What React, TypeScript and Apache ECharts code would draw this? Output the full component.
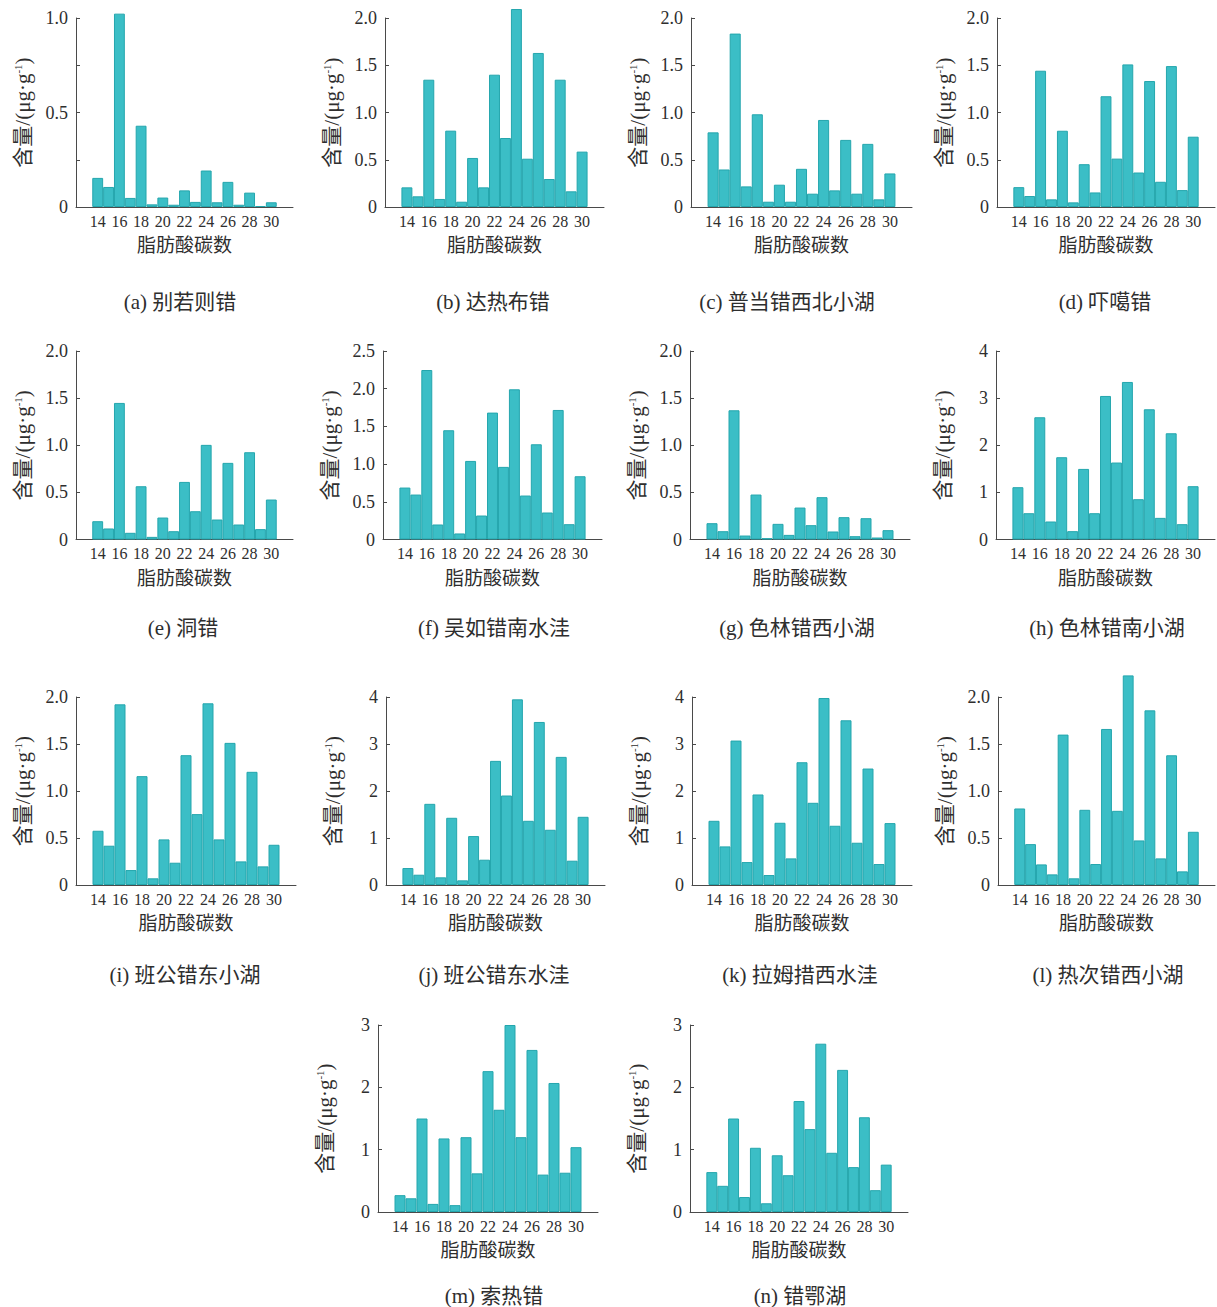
import React, { useEffect, useRef } from 'react';
import * as echarts from 'echarts';

// ---------- data ----------
const CARBON_NUMBERS = [14, 15, 16, 17, 18, 19, 20, 21, 22, 23, 24, 25, 26, 27, 28, 29, 30];
const AXIS_CATEGORIES = ['12', '13', '14', '15', '16', '17', '18', '19', '20', '21', '22', '23', '24', '25', '26', '27', '28', '29', '30', '31', '32'];
const LABELED_TICKS = ['14', '16', '18', '20', '22', '24', '26', '28', '30'];

const PANEL_LETTERS = ['a', 'b', 'c', 'd', 'e', 'f', 'g', 'h', 'i', 'j', 'k', 'l', 'm', 'n'];
const LAKE_NAMES = ['别若则错', '达热布错', '普当错西北小湖', '吓噶错', '洞错', '吴如错南水洼', '色林错西小湖', '色林错南小湖', '班公错东小湖', '班公错东水洼', '拉姆措西水洼', '热次错西小湖', '索热错', '错鄂湖'];

const VALUES_A = [0.154, 0.106, 1.023, 0.048, 0.43, 0.014, 0.05, 0.012, 0.088, 0.027, 0.193, 0.025, 0.133, 0.012, 0.076, 0.005, 0.025];
const VALUES_B = [0.208, 0.113, 1.347, 0.085, 0.808, 0.056, 0.519, 0.208, 1.40, 0.73, 2.095, 0.511, 1.63, 0.296, 1.347, 0.166, 0.586];
const VALUES_C = [0.79, 0.397, 1.835, 0.218, 0.981, 0.056, 0.236, 0.056, 0.404, 0.141, 0.921, 0.176, 0.71, 0.141, 0.668, 0.081, 0.355];
const VALUES_D = [0.21, 0.116, 1.442, 0.081, 0.807, 0.049, 0.453, 0.154, 1.172, 0.512, 1.509, 0.365, 1.333, 0.267, 1.491, 0.179, 0.744];
const VALUES_E = [0.194, 0.117, 1.449, 0.071, 0.565, 0.028, 0.233, 0.088, 0.611, 0.30, 1.004, 0.212, 0.813, 0.159, 0.926, 0.11, 0.424];
const VALUES_F = [0.689, 0.596, 2.248, 0.199, 1.449, 0.08, 1.042, 0.318, 1.683, 0.963, 1.992, 0.583, 1.263, 0.358, 1.718, 0.203, 0.839];
const VALUES_G = [0.173, 0.088, 1.371, 0.042, 0.477, 0.014, 0.166, 0.049, 0.339, 0.152, 0.449, 0.085, 0.237, 0.035, 0.226, 0.021, 0.099];
const VALUES_H = [1.11, 0.558, 2.594, 0.382, 1.746, 0.177, 1.498, 0.558, 3.046, 1.633, 3.343, 0.855, 2.763, 0.459, 2.254, 0.325, 1.131];
const VALUES_I = [0.577, 0.418, 1.922, 0.159, 1.158, 0.071, 0.485, 0.237, 1.381, 0.754, 1.933, 0.485, 1.512, 0.251, 1.204, 0.198, 0.428];
const VALUES_J = [0.361, 0.219, 1.727, 0.163, 1.43, 0.099, 1.041, 0.538, 2.641, 1.904, 3.95, 1.366, 3.469, 1.175, 2.726, 0.517, 1.451];
const VALUES_K = [1.366, 0.821, 3.073, 0.488, 1.926, 0.212, 1.324, 0.566, 2.612, 1.749, 3.979, 1.26, 3.504, 0.899, 2.478, 0.446, 1.317];
const VALUES_L = [0.814, 0.435, 0.219, 0.113, 1.60, 0.071, 0.80, 0.223, 1.66, 0.789, 2.23, 0.474, 1.858, 0.283, 1.38, 0.145, 0.566];
const VALUES_M = [0.27, 0.22, 1.5, 0.13, 1.18, 0.11, 1.2, 0.62, 2.26, 1.64, 3.0, 1.2, 2.6, 0.6, 2.07, 0.63, 1.04];
const VALUES_N = [0.64, 0.42, 1.5, 0.24, 1.03, 0.14, 0.91, 0.59, 1.78, 1.33, 2.7, 0.95, 2.28, 0.72, 1.52, 0.35, 0.76];

const ALL_VALUES = [VALUES_A, VALUES_B, VALUES_C, VALUES_D, VALUES_E, VALUES_F, VALUES_G, VALUES_H, VALUES_I, VALUES_J, VALUES_K, VALUES_L, VALUES_M, VALUES_N];

const Y_MAX = [1, 2, 2, 2, 2, 2.5, 2, 4, 2, 4, 4, 2, 3, 3];
const Y_TICK_INTERVAL = [0.25, 0.5, 0.5, 0.5, 0.5, 0.5, 0.5, 1, 0.5, 1, 1, 0.5, 1, 1];
const Y_LABEL_STEP = [0.5, 0.5, 0.5, 0.5, 0.5, 0.5, 0.5, 1, 0.5, 1, 1, 0.5, 1, 1];

// ---------- layout ----------
const PANEL_BOXES = [
  { left: 76, top: 18, width: 217, height: 189 },
  { left: 385, top: 18, width: 219, height: 189 },
  { left: 691, top: 18, width: 221, height: 189 },
  { left: 997, top: 18, width: 218, height: 189 },
  { left: 76, top: 351, width: 217, height: 188.5 },
  { left: 383, top: 351, width: 219, height: 188.5 },
  { left: 690, top: 351, width: 220, height: 188.5 },
  { left: 996, top: 351, width: 219, height: 188.5 },
  { left: 76, top: 697, width: 220, height: 188 },
  { left: 386, top: 697, width: 219, height: 188 },
  { left: 692, top: 697, width: 220, height: 188 },
  { left: 998, top: 697, width: 217, height: 188 },
  { left: 378, top: 1025, width: 220, height: 187 },
  { left: 690, top: 1025, width: 218, height: 187 },
];
const CAPTION_X = [180, 493, 787, 1105, 183, 494, 797, 1107, 185, 494, 800, 1108, 494, 800];
const CAPTION_Y = [302, 302, 302, 302, 628, 628, 628, 628, 975, 975, 975, 975, 1296, 1296];

const SERIF = "'Liberation Serif', 'Noto Sans CJK SC', serif";
const CJK = "'Noto Sans CJK SC', 'Liberation Serif', sans-serif";
const AXIS_COLOR = '#4a4a4a';
const TEXT_COLOR = '#2e2e2e';
const BAR_FILL = '#3bbec6';
const BAR_BORDER = '#24a6ad';

function buildOption() {
  const showTick = (_i: number, v: string) => LABELED_TICKS.indexOf(String(v)) >= 0;
  const grid = PANEL_BOXES.map((b) => ({ left: b.left, top: b.top, width: b.width, height: b.height, containLabel: false }));
  const xAxis = PANEL_BOXES.map((_b, i) => ({
    type: 'category',
    gridIndex: i,
    data: AXIS_CATEGORIES,
    boundaryGap: false,
    axisLine: { show: true, lineStyle: { color: AXIS_COLOR, width: 1 } },
    axisTick: { show: true, inside: true, length: 4, interval: showTick, lineStyle: { color: AXIS_COLOR } },
    axisLabel: { interval: showTick, fontFamily: SERIF, fontSize: 16, color: TEXT_COLOR, margin: 6 },
    splitLine: { show: false },
    name: '脂肪酸碳数',
    nameLocation: 'middle',
    nameGap: 27,
    nameTextStyle: { fontFamily: CJK, fontSize: 19, color: TEXT_COLOR },
  }));
  const yAxis = PANEL_BOXES.map((_b, i) => {
    const step = Y_LABEL_STEP[i];
    return {
      type: 'value',
      gridIndex: i,
      min: 0,
      max: Y_MAX[i],
      interval: Y_TICK_INTERVAL[i],
      axisLine: { show: true, lineStyle: { color: AXIS_COLOR, width: 1 } },
      axisTick: { show: true, inside: true, length: 4, lineStyle: { color: AXIS_COLOR } },
      splitLine: { show: false },
      axisLabel: {
        fontFamily: SERIF,
        fontSize: 18,
        color: TEXT_COLOR,
        margin: 8,
        formatter: (v: number) => {
          const r = v / step;
          if (Math.abs(r - Math.round(r)) > 1e-6) return '';
          if (v === 0) return '0';
          return Number.isInteger(step) ? String(Math.round(v)) : v.toFixed(1);
        },
      },
      name: '含量/(μg·g{sup|-1})',
      nameLocation: 'middle',
      nameRotate: 90,
      nameGap: 43,
      nameTextStyle: {
        fontFamily: SERIF,
        fontSize: 21,
        color: TEXT_COLOR,
        rich: { sup: { fontFamily: SERIF, fontSize: 11, color: TEXT_COLOR, verticalAlign: 'top' } },
      },
    };
  });
  const series = ALL_VALUES.map((vals, i) => ({
    type: 'bar',
    xAxisIndex: i,
    yAxisIndex: i,
    data: AXIS_CATEGORIES.map((c) => {
      const idx = CARBON_NUMBERS.indexOf(Number(c));
      return idx >= 0 ? vals[idx] : null;
    }),
    barWidth: '100%',
    clip: false,
    silent: true,
    itemStyle: { color: BAR_FILL, borderColor: BAR_BORDER, borderWidth: 1 },
  }));
  const graphic = PANEL_LETTERS.map((letter, i) => ({
    type: 'text',
    x: CAPTION_X[i],
    y: CAPTION_Y[i],
    style: {
      text: `(${letter}) ${LAKE_NAMES[i]}`,
      fontFamily: SERIF,
      fontSize: 21,
      fill: TEXT_COLOR,
      align: 'center',
      verticalAlign: 'middle',
      textAlign: 'center',
      textVerticalAlign: 'middle',
    },
  }));
  return { animation: false, backgroundColor: '#ffffff', grid, xAxis, yAxis, series, graphic };
}

export default function App() {
  const ref = useRef<HTMLDivElement>(null);
  useEffect(() => {
    if (!ref.current) return;
    const chart = echarts.init(ref.current, undefined, { renderer: 'svg' });
    chart.setOption(buildOption() as any);
    return () => chart.dispose();
  }, []);
  return <div ref={ref} style={{ position: 'absolute', left: 0, top: 0, width: 1217, height: 1307 }} />;
}
